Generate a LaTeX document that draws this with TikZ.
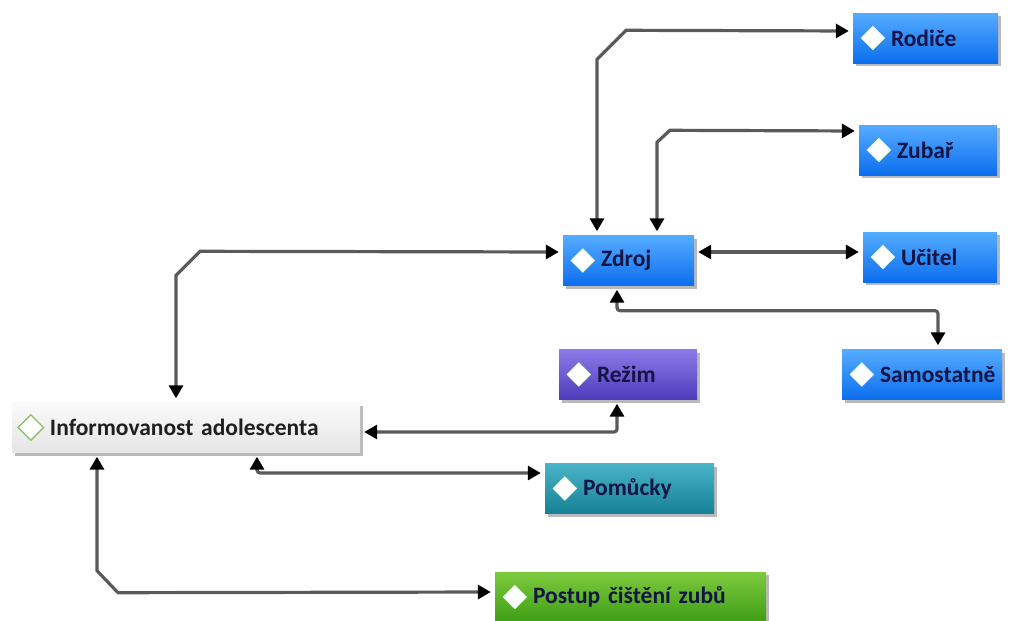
\documentclass[tikz,border=0pt]{standalone}
\usepackage{fontspec}
\setmainfont{Carlito}
\usepackage{tikz}
\usetikzlibrary{arrows.meta,shapes.geometric,shadows}
\definecolor{link_gray}{RGB}{90,90,90}
\definecolor{txt_navy}{RGB}{20,20,70}
\definecolor{blue_top}{RGB}{85,172,255}
\definecolor{blue_bot}{RGB}{12,110,238}
\definecolor{violet_top}{RGB}{140,122,232}
\definecolor{violet_bot}{RGB}{78,60,188}
\definecolor{teal_top}{RGB}{72,180,200}
\definecolor{teal_bot}{RGB}{22,128,148}
\definecolor{green_top}{RGB}{125,202,62}
\definecolor{green_bot}{RGB}{62,158,20}
\definecolor{diam_green}{RGB}{140,192,110}

\begin{document}
\begin{tikzpicture}[x=1pt,y=-1pt,>={Triangle[length=13pt,width=14pt,color=black]}]
    \tikzstyle{box}=[inner xsep=0pt, inner ysep=0pt, minimum height=50pt, align=left,
                     font=\fontsize{23.5}{26}\selectfont\bfseries, text=txt_navy,
                     execute at begin node={\hspace*{38pt}},
                     drop shadow={shadow xshift=3pt, shadow yshift=-3pt, opacity=0.45, fill=black!60}]
    \tikzstyle{blue}=[box, top color=blue_top, bottom color=blue_bot]
    \tikzstyle{diam}=[diamond, fill=white, draw=white!85!green, inner sep=0pt, minimum width=24pt, minimum height=24pt]
    \tikzstyle{link}=[<->, line width=3.2pt, draw=link_gray, shorten <=4pt, shorten >=4pt]

    \useasboundingbox (0,0) rectangle (1028,621);

    % boxes
    \node[blue, text width=145pt] (rod) at (925.5,38)  {Rodiče};
    \node[blue, text width=138pt] (zub) at (928,150)   {Zubař};
    \node[blue, text width=131pt] (zdr) at (628.5,260.5) {Zdroj};
    \node[blue, text width=134pt] (uci) at (930,257)   {Učitel};
    \node[blue, text width=160pt] (sam) at (922,374.5) {Samostatně};
    \node[box, text width=138pt, top color=violet_top, bottom color=violet_bot] (rez) at (628,374.5) {Režim};
    \node[box, text width=348pt, top color=white!98!black, bottom color=white!90!black, text=black!88]
        (inf) at (186,427.5) {Informovanost adolescenta};
    \node[box, text width=169pt, top color=teal_top, bottom color=teal_bot] (pom) at (629.5,488.5) {Pomůcky};
    \node[box, text width=271pt, top color=green_top, bottom color=green_bot] (pos) at (630.5,597) {Postup čištění zubů};

    % diamonds
    \foreach \n in {rod,zub,zdr,uci,sam,rez,pom,pos}
        \node[diam] (\n d) at ([xshift=20pt]\n.west) {};
    \node[diam, fill=white, draw=diam_green, line width=1.4pt, minimum width=26pt, minimum height=26pt]
        (infd) at ([xshift=19pt]inf.west) {};

    % connectors
    \draw[link] ([xshift=-31.5pt]zdr.north) -- ++(0,-176) -- ++(29,-29) -- ([yshift=7pt]rod.west);
    \draw[link] ([xshift=28.5pt]zdr.north) -- ++(0,-93) -- ++(13,-12) -- ([yshift=19pt]zub.west);
    \draw[link] ([yshift=8.5pt]zdr.east) -- ([yshift=5pt]uci.west);
    \draw[link, rounded corners=3pt] ([xshift=-11.5pt]zdr.south) -- ++(0,25) -| ([xshift=16pt]sam.north);
    \draw[link] ([xshift=-10pt]inf.north) -- ++(0,-127) -- ++(24,-24) -- ([yshift=8.5pt]zdr.west);
    \draw[link, rounded corners=3pt] ([xshift=-11pt]rez.south) |- ([yshift=-4.5pt]inf.east);
    \draw[link, rounded corners=3pt] ([xshift=71pt]inf.south) |- ([yshift=15.5pt]pom.west);
    \draw[link] ([xshift=-89pt]inf.south) -- ++(0,118) -- ++(21,22) -- ([yshift=5pt]pos.west);
\end{tikzpicture}
\end{document}
